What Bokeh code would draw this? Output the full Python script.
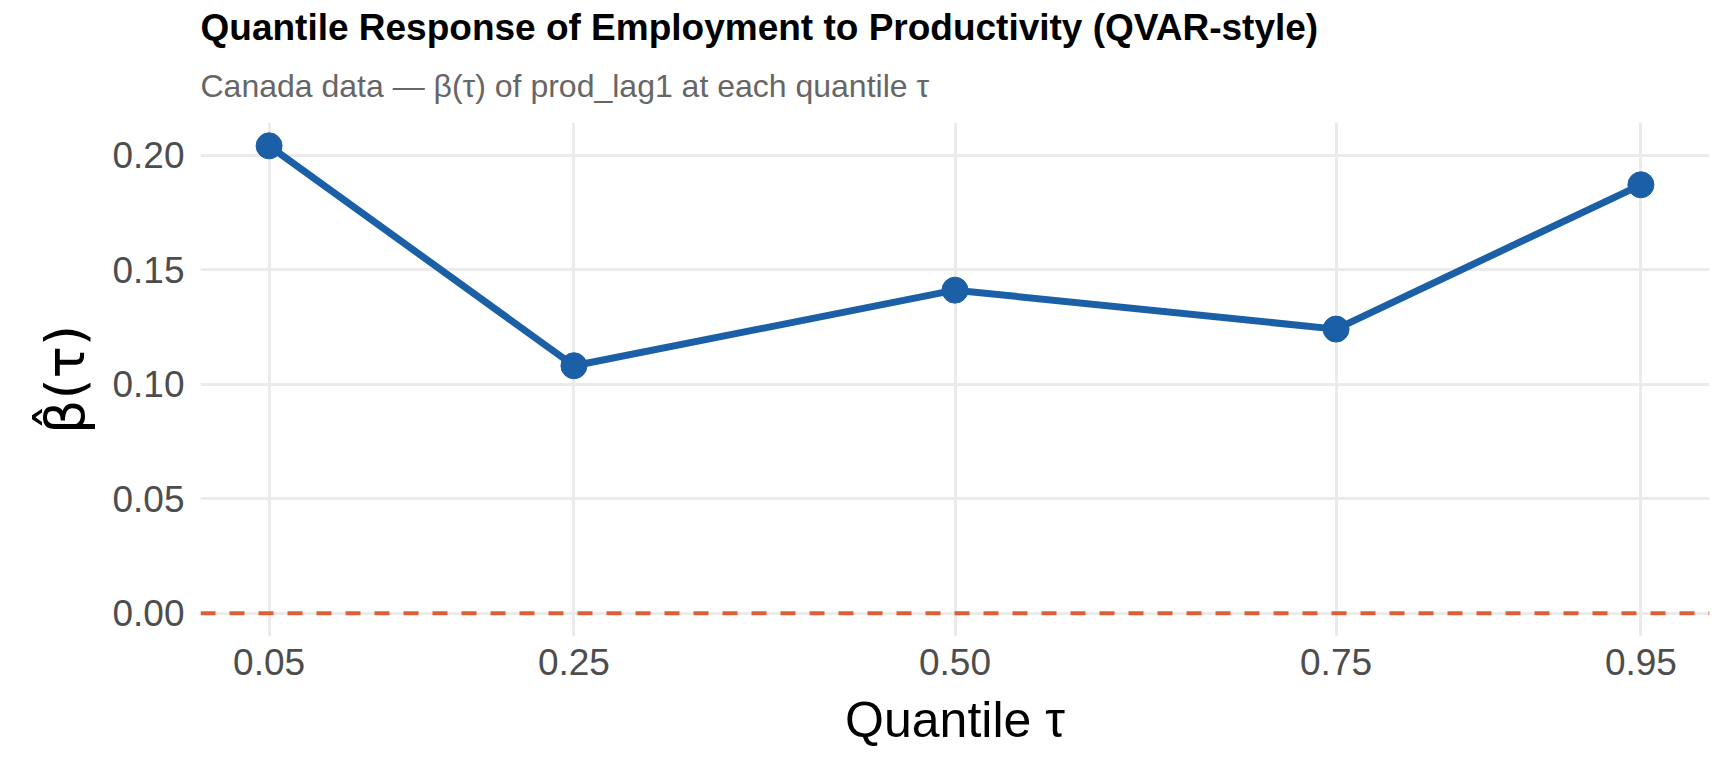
from bokeh.plotting import figure
from bokeh.models import Range1d, FixedTicker, Span, Title
from bokeh.embed import file_html
from bokeh.resources import INLINE

# ---- data ----
tau = [0.05, 0.25, 0.50, 0.75, 0.95]
beta = [0.204, 0.108, 0.141, 0.124, 0.187]
x_ticks = [0.05, 0.25, 0.50, 0.75, 0.95]
x_tick_labels = ["0.05", "0.25", "0.50", "0.75", "0.95"]
y_ticks = [0.00, 0.05, 0.10, 0.15, 0.20]
y_tick_labels = ["0.00", "0.05", "0.10", "0.15", "0.20"]
ref_value = 0.0
title_text = "Quantile Response of Employment to Productivity (QVAR-style)"
subtitle_text = "Canada data \u2014 \u03b2(\u03c4) of prod_lag1 at each quantile \u03c4"
x_title = "Quantile \u03c4"
y_title = "\u03b2\u0302(\u03c4)"

FONT = "Liberation Sans"
LINE_COL = "#1b5fa6"
REF_COL = "#dc5f37"
GRID_COL = "#ebebeb"
TICK_COL = "#4d4d4d"

xpad = 0.05 * (max(tau) - min(tau))
ylo = min(min(beta), ref_value)
yhi = max(max(beta), ref_value)
ypad = 0.05 * (yhi - ylo)

p = figure(width=1712, height=752, output_backend="svg", toolbar_location=None,
           title=None,
           x_range=Range1d(min(tau) - xpad, max(tau) + xpad),
           y_range=Range1d(ylo - ypad, yhi + ypad),
           min_border_left=200, min_border_right=3,
           min_border_top=122, min_border_bottom=116)
p.outline_line_color = None
p.background_fill_color = "white"
p.border_fill_color = "white"

p.add_layout(Title(text=subtitle_text, text_font=FONT, text_font_size="32px",
                   text_color="#666666", text_font_style="normal", align="left",
                   standoff=38), "above")
p.add_layout(Title(text=title_text, text_font=FONT, text_font_size="37px",
                   text_font_style="bold", text_color="black", align="left",
                   standoff=-3), "above")

# axes
for ax, ticks, labels in ((p.xaxis, x_ticks, x_tick_labels), (p.yaxis, y_ticks, y_tick_labels)):
    ax.ticker = FixedTicker(ticks=ticks)
    ax.major_label_overrides = {t: l for t, l in zip(ticks, labels)}
    ax.axis_line_color = None
    ax.major_tick_line_color = None
    ax.minor_tick_line_color = None
    ax.major_tick_out = 0
    ax.major_tick_in = 0
    ax.major_label_text_font = FONT
    ax.major_label_text_font_size = "37px"
    ax.major_label_text_color = TICK_COL
    ax.axis_label_text_font_style = "normal"
    ax.axis_label_text_color = "black"

p.xaxis.axis_label = x_title
p.xaxis.axis_label_text_font = FONT
p.xaxis.axis_label_text_font_size = "50px"
p.yaxis.axis_label = y_title
p.yaxis.axis_label_text_font = "DejaVu Sans"
p.yaxis.axis_label_text_font_size = "54px"
p.xaxis.major_label_standoff = 12
p.xaxis.axis_label_standoff = 14
p.yaxis.major_label_standoff = 16
p.yaxis.axis_label_standoff = 12

for g in (p.xgrid, p.ygrid):
    g.grid_line_color = GRID_COL
    g.grid_line_width = 3
    g.minor_grid_line_color = None

p.add_layout(Span(location=ref_value, dimension="width", line_color=REF_COL,
                  line_dash="15 14", line_width=4))

p.line(tau, beta, line_color=LINE_COL, line_width=7)
p.scatter(tau, beta, size=26, fill_color=LINE_COL, line_color=LINE_COL)

open("out.html", "w").write(file_html(p, INLINE))
